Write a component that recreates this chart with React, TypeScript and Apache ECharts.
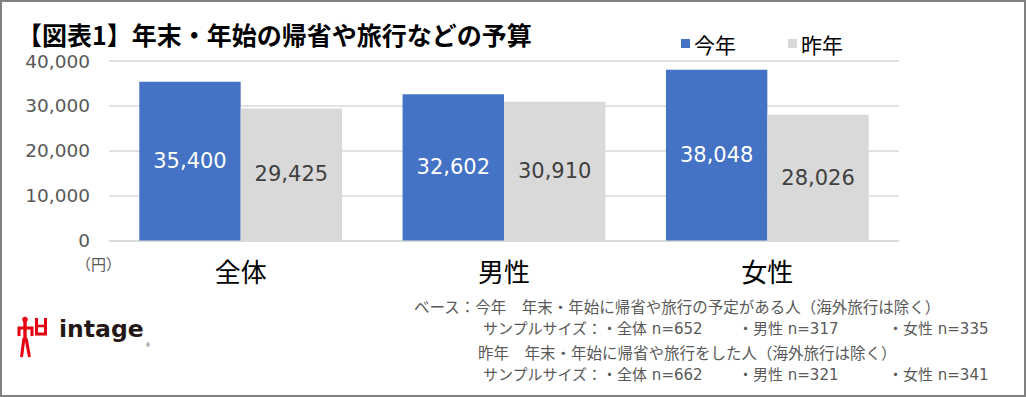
import React, { useEffect, useRef } from "react";
import * as echarts from "echarts";

const categories = ["全体", "男性", "女性"];
const thisYear = [35400, 32602, 38048];
const lastYear = [29425, 30910, 28026];
const seriesNames = ["今年", "昨年"];
const yTicks = [0, 10000, 20000, 30000, 40000];

const titleText = "【図表1】年末・年始の帰省や旅行などの予算";
const unitText = "（円）";
const noteLine1 = "ベース：今年　年末・年始に帰省や旅行の予定がある人（海外旅行は除く）";
const noteLine2 = ["サンプルサイズ：・全体 n=652", "・男性 n=317", "・女性 n=335"];
const noteLine3 = "昨年　年末・年始に帰省や旅行をした人（海外旅行は除く）";
const noteLine4 = ["サンプルサイズ：・全体 n=662", "・男性 n=321", "・女性 n=341"];

const FONT = "'Noto Sans CJK JP', 'Noto Sans', sans-serif";
const NUMFONT = "'DejaVu Sans', 'Noto Sans CJK JP', sans-serif";
const fmt = (v: number) => v.toLocaleString("en-US");

export default function App() {
  const ref = useRef<HTMLDivElement>(null);
  useEffect(() => {
    document.body.style.margin = "0";
    const chart = echarts.init(ref.current!, null, { renderer: "svg" });
    const noteStyle = { fontSize: 15.5, fill: "#595959", fontFamily: FONT };
    const noteNumStyle = { fontSize: 15, fill: "#595959", fontFamily: NUMFONT };
    const noteX = [483, 738, 888];
    chart.setOption({
      animation: false,
      textStyle: { fontFamily: FONT },
      title: {
        text: titleText,
        left: 12,
        top: 16,
        textStyle: { fontSize: 25, fontWeight: "bold", color: "#000", fontFamily: FONT },
      },
      legend: {
        data: seriesNames,
        left: 676,
        top: 28,
        icon: "rect",
        itemWidth: 9,
        itemHeight: 9,
        itemGap: 52,
        textStyle: { fontSize: 21, color: "#000", fontFamily: FONT, padding: [0, 0, 0, -1] },
      },
      grid: { left: 109, right: 127, top: 61, bottom: 156.5, containLabel: false },
      xAxis: {
        type: "category",
        data: categories,
        axisTick: { show: false },
        axisLine: { lineStyle: { color: "#d9d9d9", width: 1.5 } },
        axisLabel: { fontSize: 26, color: "#000", margin: 17, fontFamily: FONT },
      },
      yAxis: {
        type: "value",
        min: yTicks[0],
        max: yTicks[yTicks.length - 1],
        interval: 10000,
        axisLine: { show: false },
        axisTick: { show: false },
        splitLine: { lineStyle: { color: "#d9d9d9", width: 1.5 } },
        axisLabel: { fontSize: 18.5, color: "#595959", margin: 19, formatter: (v: number) => fmt(v), fontFamily: NUMFONT },
      },
      series: [
        {
          name: seriesNames[0],
          type: "bar",
          data: thisYear,
          barGap: "0%",
          barCategoryGap: "23%",
          itemStyle: { color: "#4472c4" },
          label: { show: true, position: "inside", fontSize: 21, color: "#fff", formatter: (p: any) => fmt(p.value), fontFamily: NUMFONT },
        },
        {
          name: seriesNames[1],
          type: "bar",
          data: lastYear,
          barGap: "0%",
          barCategoryGap: "23%",
          itemStyle: { color: "#d9d9d9" },
          label: { show: true, position: "inside", fontSize: 21, color: "#404040", formatter: (p: any) => fmt(p.value), fontFamily: NUMFONT },
        },
      ],
      graphic: [
        { type: "rect", shape: { x: 1, y: 1, width: 1024, height: 395 }, style: { fill: "none", stroke: "#808080", lineWidth: 2 }, silent: true },
        { type: "text", x: 76, y: 256, style: { text: unitText, fontSize: 15, fill: "#595959", fontFamily: FONT } },
        { type: "text", x: 414, y: 298, style: { text: noteLine1, ...noteStyle } },
        ...noteLine2.map((t, i) => ({ type: "text", x: noteX[i], y: 321, style: { text: t, ...noteNumStyle } })),
        { type: "text", x: 478, y: 344, style: { text: noteLine3, ...noteStyle } },
        ...noteLine4.map((t, i) => ({ type: "text", x: noteX[i], y: 367, style: { text: t, ...noteNumStyle } })),
        // logo figure
        { type: "circle", shape: { cx: 25, cy: 319.5, r: 2.8 }, style: { fill: "#e60012" } },
        { type: "polyline", shape: { points: [[25, 321], [25, 340]] }, style: { stroke: "#e60012", lineWidth: 3.4, fill: "none" } },
        { type: "polyline", shape: { points: [[19, 336], [19, 328], [32, 328], [32, 336]] }, style: { stroke: "#e60012", lineWidth: 3, fill: "none" } },
        { type: "polyline", shape: { points: [[24, 338], [21.5, 357]] }, style: { stroke: "#e60012", lineWidth: 3, fill: "none" } },
        { type: "polyline", shape: { points: [[26, 338], [29.5, 357]] }, style: { stroke: "#e60012", lineWidth: 3, fill: "none" } },
        { type: "polyline", shape: { points: [[36.5, 318], [36.5, 334], [45.5, 334], [45.5, 318]] }, style: { stroke: "#e60012", lineWidth: 3, fill: "none" } },
        { type: "polyline", shape: { points: [[36.5, 326], [45.5, 326]] }, style: { stroke: "#e60012", lineWidth: 2.5, fill: "none" } },
        { type: "text", x: 59, y: 317, style: { text: "intage", fontSize: 23.5, fill: "#231815", fontFamily: "'DejaVu Sans', sans-serif", fontWeight: "bold" } },
        { type: "text", x: 146, y: 342, style: { text: "®", fontSize: 5, fill: "#231815" } },
      ],
    });
    return () => chart.dispose();
  }, []);
  return <div ref={ref} style={{ width: 1026, height: 397 }} />;
}
